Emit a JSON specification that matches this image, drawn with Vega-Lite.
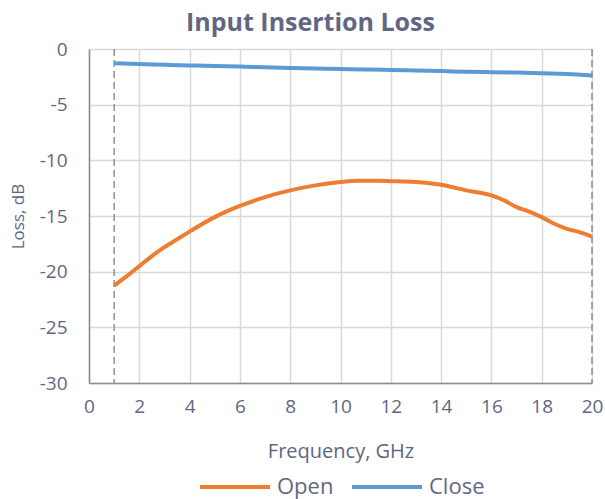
{
  "$schema": "https://vega.github.io/schema/vega-lite/v6.json",
  "width": 503,
  "height": 334,
  "autosize": {"type": "none"},
  "padding": {"left": 89, "top": 49, "right": 13, "bottom": 116},
  "title": {"text": "Input Insertion Loss", "fontSize": 25, "fontWeight": "bold", "color": "#5F6782", "font": "Open Sans", "anchor": "middle", "dx": -30, "offset": 4},
  "config": {
    "view": {"stroke": null},
    "font": "Open Sans",
    "axis": {"labelFont": "Open Sans", "titleFont": "Open Sans", "labelColor": "#5F6782", "titleColor": "#5F6782", "gridColor": "#D9D9D9", "gridWidth": 1.5, "domainColor": "#8C8C8C", "domainWidth": 1.5, "ticks": false, "titleFontWeight": "normal", "labelOverlap": false, "labelFlush": false, "labelBound": false}
  },
  "datasets": {
    "curves": [
      {"f": 1, "loss": -21.25, "series": "Open"},
      {"f": 1.5, "loss": -20.4, "series": "Open"},
      {"f": 2, "loss": -19.5, "series": "Open"},
      {"f": 2.5, "loss": -18.6, "series": "Open"},
      {"f": 3, "loss": -17.8, "series": "Open"},
      {"f": 3.5, "loss": -17.1, "series": "Open"},
      {"f": 4, "loss": -16.4, "series": "Open"},
      {"f": 5, "loss": -15.1, "series": "Open"},
      {"f": 6, "loss": -14.1, "series": "Open"},
      {"f": 7, "loss": -13.3, "series": "Open"},
      {"f": 8, "loss": -12.7, "series": "Open"},
      {"f": 9, "loss": -12.25, "series": "Open"},
      {"f": 10, "loss": -11.95, "series": "Open"},
      {"f": 10.7, "loss": -11.83, "series": "Open"},
      {"f": 11.5, "loss": -11.84, "series": "Open"},
      {"f": 12, "loss": -11.87, "series": "Open"},
      {"f": 13, "loss": -11.95, "series": "Open"},
      {"f": 14, "loss": -12.2, "series": "Open"},
      {"f": 15, "loss": -12.7, "series": "Open"},
      {"f": 16, "loss": -13.15, "series": "Open"},
      {"f": 16.5, "loss": -13.6, "series": "Open"},
      {"f": 17, "loss": -14.2, "series": "Open"},
      {"f": 17.5, "loss": -14.6, "series": "Open"},
      {"f": 18, "loss": -15.1, "series": "Open"},
      {"f": 18.5, "loss": -15.7, "series": "Open"},
      {"f": 19, "loss": -16.15, "series": "Open"},
      {"f": 19.5, "loss": -16.45, "series": "Open"},
      {"f": 20, "loss": -16.85, "series": "Open"},
      {"f": 1, "loss": -1.27, "series": "Close"},
      {"f": 2, "loss": -1.35, "series": "Close"},
      {"f": 3, "loss": -1.42, "series": "Close"},
      {"f": 4, "loss": -1.48, "series": "Close"},
      {"f": 5, "loss": -1.53, "series": "Close"},
      {"f": 6, "loss": -1.58, "series": "Close"},
      {"f": 7, "loss": -1.65, "series": "Close"},
      {"f": 8, "loss": -1.7, "series": "Close"},
      {"f": 9, "loss": -1.75, "series": "Close"},
      {"f": 10, "loss": -1.8, "series": "Close"},
      {"f": 11, "loss": -1.84, "series": "Close"},
      {"f": 12, "loss": -1.88, "series": "Close"},
      {"f": 13, "loss": -1.93, "series": "Close"},
      {"f": 14, "loss": -1.98, "series": "Close"},
      {"f": 15, "loss": -2.05, "series": "Close"},
      {"f": 16, "loss": -2.08, "series": "Close"},
      {"f": 17, "loss": -2.12, "series": "Close"},
      {"f": 18, "loss": -2.18, "series": "Close"},
      {"f": 19, "loss": -2.24, "series": "Close"},
      {"f": 20, "loss": -2.38, "series": "Close"}
    ],
    "markers": [{"f": 1}, {"f": 20}]
  },
  "encoding": {
    "x": {"field": "f", "type": "quantitative", "scale": {"domain": [0, 20], "nice": false},
      "axis": {"title": "Frequency, GHz", "values": [0, 2, 4, 6, 8, 10, 12, 14, 16, 18, 20], "labelFontSize": 19, "titleFontSize": 20, "labelPadding": 14, "titlePadding": 25, "labelExpr": "datum.value"}}
  },
  "layer": [
    {
      "data": {"name": "markers"},
      "mark": {"type": "rule", "color": "#7F7F7F", "strokeDash": [7, 4], "strokeWidth": 1.3}
    },
    {
      "data": {"name": "curves"},
      "mark": {"type": "line", "strokeWidth": 4, "interpolate": "monotone"},
      "encoding": {
        "y": {"field": "loss", "type": "quantitative", "scale": {"domain": [-30, 0], "nice": false},
          "axis": {"title": "Loss, dB", "values": [0, -5, -10, -15, -20, -25, -30], "labelFontSize": 19, "titleFontSize": 17, "labelPadding": 22, "titlePadding": 12, "labelExpr": "datum.value"}},
        "color": {"field": "series", "type": "nominal",
          "scale": {"domain": ["Open", "Close"], "range": ["#ED7D31", "#5B9BD5"]},
          "legend": {"title": null, "orient": "none", "direction": "horizontal", "legendX": 109, "legendY": 401, "symbolType": "stroke", "symbolSize": 4900, "symbolStrokeWidth": 4, "labelFontSize": 22, "labelColor": "#5F6782", "labelFont": "Open Sans", "columnPadding": 10, "labelOffset": 5}}
      }
    }
  ]
}
